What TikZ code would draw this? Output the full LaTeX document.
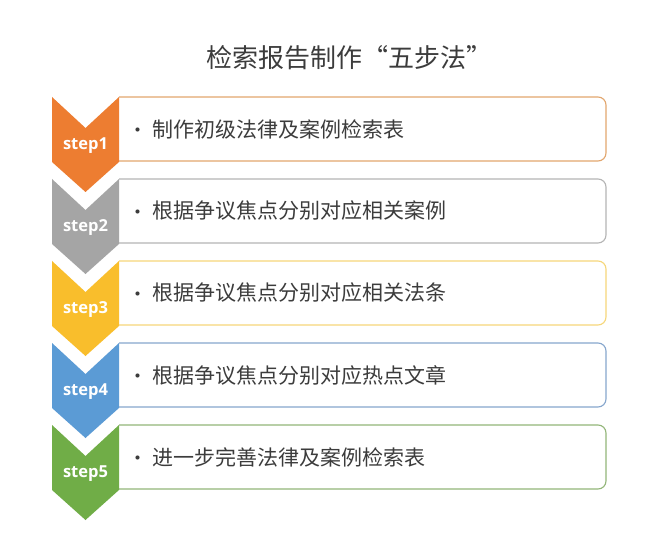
\documentclass[tikz,border=0pt]{standalone}
\usepackage{fontspec}
\newfontfamily\cjk{Noto Sans CJK SC}
\newfontfamily\stepfont{Open Sans}
\definecolor{cO}{HTML}{ED7D31}
\definecolor{cG}{HTML}{A5A5A5}
\definecolor{cY}{HTML}{F9BE2C}
\definecolor{cB}{HTML}{5B9BD5}
\definecolor{cN}{HTML}{70AD47}
\definecolor{bO}{HTML}{E2A66E}
\definecolor{bG}{HTML}{B4B4B4}
\definecolor{bY}{HTML}{F6D77A}
\definecolor{bB}{HTML}{86A6CD}
\definecolor{bN}{HTML}{93B679}
\definecolor{txt}{HTML}{3C3C3C}
\tikzset{
  stepbox/.style={rounded corners=8pt, line width=1.1pt},
  steplabel/.style={text=white, font=\stepfont\bfseries\fontsize{16.5}{18}\selectfont, inner sep=0pt},
  steptext/.style={text=txt, font=\cjk\fontsize{21}{24}\selectfont, anchor=west, inner sep=0pt},
  bullet/.style={circle, fill=txt, inner sep=0pt, minimum size=4.2pt},
}
\begin{document}
\begin{tikzpicture}[x=1pt,y=-1pt]
\useasboundingbox[fill=white] (0,0) rectangle (648,556);
\node[text=txt, font=\cjk\fontsize{26}{30}\selectfont, inner sep=0pt] (title) at (349,58) {检索报告制作“五步法”};
\foreach \i/\c/\b/\t in {
  1/cO/bO/制作初级法律及案例检索表,
  2/cG/bG/根据争议焦点分别对应相关案例,
  3/cY/bY/根据争议焦点分别对应相关法条,
  4/cB/bB/根据争议焦点分别对应热点文章,
  5/cN/bN/进一步完善法律及案例检索表}{
  \pgfmathsetmacro\top{97+82*(\i-1)}
  \draw[stepbox, draw=\b] (119,\top) -| (606,\top+64) -- (119,\top+64);
  \fill[\c] (52,\top) -- (85.5,\top+31) -- (119,\top) -- (119,\top+65) -- (85.5,\top+95) -- (52,\top+65) -- cycle;
  \node[steplabel] (lab\i) at (85.5,\top+49) {step\i};
  \node[bullet] (bul\i) at (137.5,\top+32.5) {};
  \node[steptext] (txt\i) at (152,\top+32) {\t};
}
\end{tikzpicture}
\end{document}
